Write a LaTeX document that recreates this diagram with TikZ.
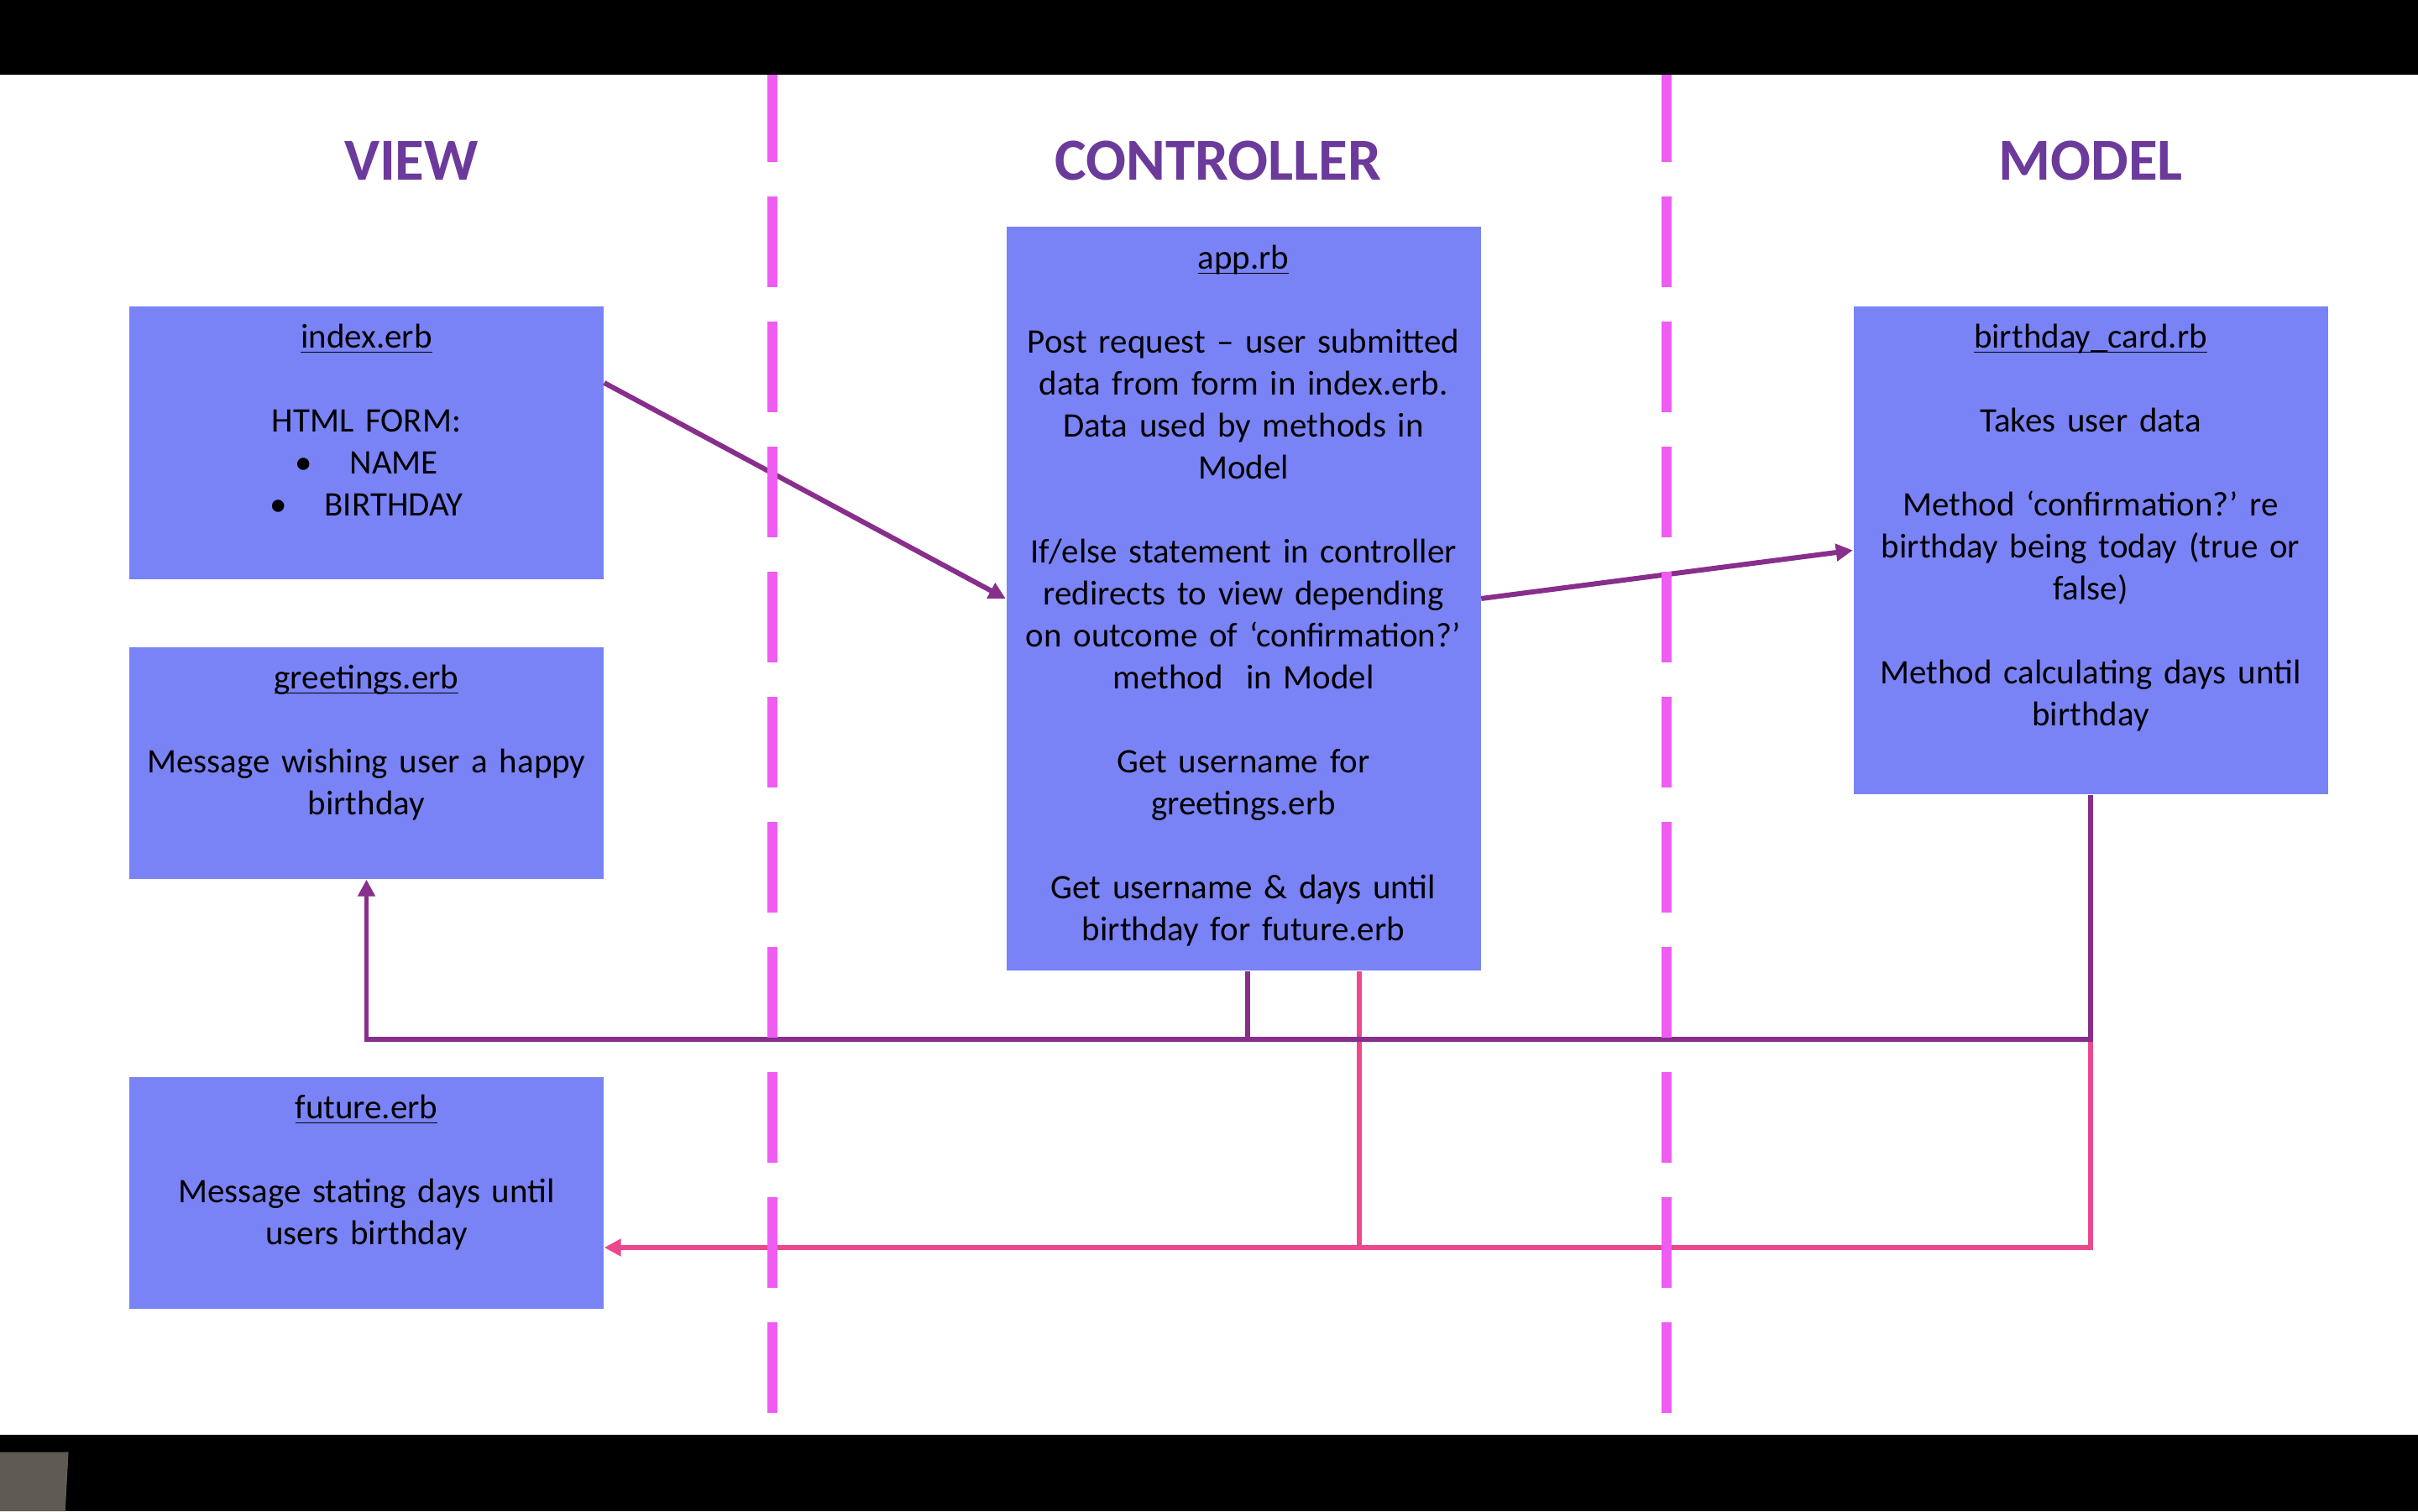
\documentclass[tikz,border=0pt]{standalone}
\usepackage{fontspec}
\setmainfont{Carlito}
\usepackage{tikz}
\usetikzlibrary{arrows,arrows.meta,positioning,calc}

\definecolor{boxblue}{RGB}{122,131,246}
\definecolor{headpurple}{RGB}{107,58,155}
\definecolor{linkpurple}{RGB}{136,46,140}
\definecolor{linkpink}{RGB}{234,74,140}
\definecolor{lanepink}{RGB}{238,92,242}
\definecolor{slidegray}{RGB}{94,91,84}

\newcommand{\erbname}[1]{\underline{\smash{#1}}}
\frenchspacing

\begin{document}
\begin{tikzpicture}[>={Triangle[length=0.2cm,width=0.2cm]}]
% Styles

   \tikzstyle{erbbox} = [shape=rectangle, fill=boxblue, minimum width=5.65cm, inner sep=0pt]
   \tikzstyle{boxtxt} = [anchor=base, text width=5.6cm, align=center, inner sep=0pt, font={\fontsize{11.66pt}{14.23pt}\selectfont}]
   \tikzstyle{lane} = [anchor=base, text=headpurple, inner sep=0pt, font={\fontsize{20.2pt}{24pt}\selectfont\bfseries}]
   \tikzstyle{purp} = [draw=linkpurple, line width=1.7pt]
   \tikzstyle{pnk} = [draw=linkpink, line width=1.7pt]

\fill[white] (0,0) rectangle (28.8,18);
\useasboundingbox (0,0) rectangle (28.8,18);

% Headings
\node[lane] (vhead) at (4.90,15.85) {VIEW};
\node[lane] (chead) at (14.51,15.85) {CONTROLLER};
\node[lane] (mhead) at (24.90,15.85) {MODEL};

% Boxes
\node[erbbox, minimum height=3.25cm] (idx) at (4.365,12.725) {};
\node[erbbox, minimum height=2.76cm] (greet) at (4.365,8.91) {};
\node[erbbox, minimum height=2.76cm] (fut) at (4.365,3.79) {};
\node[erbbox, minimum height=8.86cm] (app) at (14.81,10.87) {};
\node[erbbox, minimum height=5.81cm] (card) at (24.90,11.445) {};

\node[boxtxt] (idxtxt) at ($(idx.north)+(0,-0.50)$) {\erbname{index.erb}\\[\baselineskip]
    HTML FORM:\\ \textbullet\hspace{0.45cm}NAME\\ \textbullet\hspace{0.45cm}BIRTHDAY};
\node[boxtxt] (greettxt) at ($(greet.north)+(0,-0.50)$) {\erbname{greetings.erb}\\[\baselineskip]
    Message wishing user a happy\\ birthday};
\node[boxtxt] (futtxt) at ($(fut.north)+(0,-0.50)$) {\erbname{future.erb}\\[\baselineskip]
    Message stating days until\\ users birthday};
\node[boxtxt] (apptxt) at ($(app.north)+(0,-0.51)$) {\erbname{app.rb}\\[\baselineskip]
    Post request – user submitted\\ data from form in index.erb.\\ Data used by methods in\\ Model\\[\baselineskip]
    If/else statement in controller\\ redirects to view depending\\ on outcome of ‘confirmation?’\\ method\ \ in Model\\[\baselineskip]
    Get username for\\ greetings.erb\\[\baselineskip]
    Get username \& days until\\ birthday for future.erb};
\node[boxtxt] (cardtxt) at ($(card.north)+(0,-0.50)$) {\erbname{birthday\_card.rb}\\[\baselineskip]
    Takes user data\\[\baselineskip]
    Method ‘confirmation?’ re\\ birthday being today (true or\\ false)\\[\baselineskip]
    Method calculating days until\\ birthday};

% Connectors
\coordinate (busP) at (0,5.62);
\coordinate (busQ) at (0,3.14);
\coordinate (appP) at ($(app.south)+(0.05,0)$);
\coordinate (appQ) at ($(app.south)+(1.38,0)$);

\draw[purp,->] ($(idx.east)+(0,0.715)$) -- (app.west);
\draw[purp,->] (app.east) -- (card.west);
\draw[pnk] (appQ) -- (appQ |- busQ);
\draw[pnk,->] (card.south |- busP) -- (card.south |- busQ) -- (fut.east |- busQ);
\draw[purp] (appP) -- (appP |- busP);
\draw[purp,->] (card.south) |- (greet.south |- busP) -- (greet.south);

% Lane separators
\foreach \x in {9.20,19.85}
    \draw[lanepink, line width=3.5pt, dash pattern=on 1.08cm off 0.41cm] (\x,17.15) -- (\x,1.17);

% Screen bars
\fill[black] (0,17.11) rectangle (28.8,18);
\fill[black] (0,0) rectangle (28.8,0.91);
\fill[slidegray] (0,0) -- (0,0.705) -- (0.816,0.705) -- (0.778,0) -- cycle;
\end{tikzpicture}
\end{document}
